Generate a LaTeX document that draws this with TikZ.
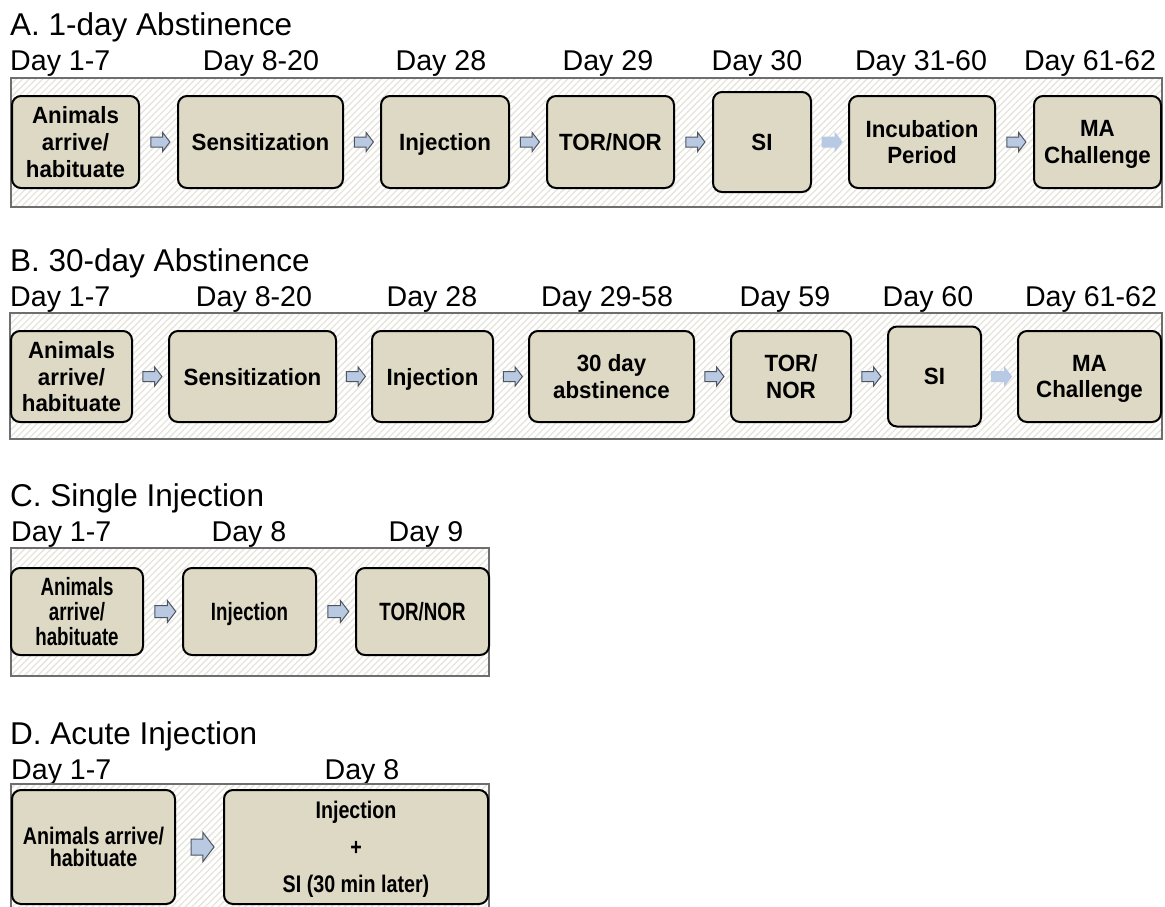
\documentclass[tikz,border=0pt]{standalone}
\usepackage{fontspec}
\setmainfont{Liberation Sans}
\newfontfamily\stepfontA[FakeStretch=0.95]{Liberation Sans}
\newfontfamily\stepfontC[FakeStretch=0.75]{Liberation Sans}
\newfontfamily\stepfontD[FakeStretch=0.82]{Liberation Sans}
\usetikzlibrary{shapes.arrows,patterns.meta,positioning}
\definecolor{boxfill}{RGB}{221,217,196}
\definecolor{hatch}{RGB}{230,228,219}
\definecolor{framegray}{RGB}{110,110,110}
\definecolor{arrowblue}{RGB}{185,201,226}
\definecolor{arrowfaint}{RGB}{184,201,228}
\definecolor{arrowedge}{RGB}{78,86,98}
\tikzstyle{panelframe} = [draw=framegray,line width=1.5pt,pattern={Lines[angle=45,distance=4.7pt,line width=1.3pt]},pattern color=hatch]
\tikzstyle{stagebox} = [draw=black,line width=2pt,fill=boxfill,rounded corners=9pt,align=center,inner sep=0pt,text depth=0pt]
\tikzstyle{stageA} = [stagebox,font=\stepfontA\fontsize{23.5}{26.7}\selectfont\bfseries]
\tikzstyle{stageC} = [stagebox,font=\stepfontC\fontsize{25}{25}\selectfont\bfseries]
\tikzstyle{stageD} = [stagebox,font=\stepfontD\fontsize{24}{22}\selectfont\bfseries]
\tikzstyle{flow} = [single arrow,draw=arrowedge,line width=1pt,fill=arrowblue,inner xsep=0pt,inner ysep=4.5pt,minimum height=19pt,single arrow head extend=4.5pt,single arrow tip angle=105]
\tikzstyle{flowfaint} = [flow,draw=none,fill=arrowfaint,minimum height=21pt,inner ysep=5pt,single arrow head extend=5pt]
\tikzstyle{daylabel} = [anchor=base,inner sep=0pt,font=\fontsize{28.6}{30}\selectfont]
\tikzstyle{paneltitle} = [anchor=base west,inner sep=0pt,font=\fontsize{31.5}{33}\selectfont]

\begin{document}
\begin{tikzpicture}[x=1pt,y=-1pt]
\fill[white] (0,0) rectangle (1165,906);
\useasboundingbox (0,0) rectangle (1165,906);

% A. 1-day abstinence
\node[paneltitle] (titleA) at (10,35) {A. 1-day Abstinence};
\node[daylabel,anchor=base west] (dayA1) at (10,70) {Day 1-7};
\node[daylabel] (dayA2) at (261,70) {Day 8-20};
\node[daylabel] (dayA3) at (441,70) {Day 28};
\node[daylabel] (dayA4) at (608,70) {Day 29};
\node[daylabel] (dayA5) at (757,70) {Day 30};
\node[daylabel] (dayA6) at (921,70) {Day 31-60};
\node[daylabel] (dayA7) at (1090,70) {Day 61-62};
\draw[panelframe] (11,78) rectangle (1162,207);
\node[stageA,minimum width=127pt,minimum height=92pt] (a1) at (75.5,142) {Animals\\arrive/\\habituate};
\node[stageA,minimum width=165pt,minimum height=92pt] (a2) at (260.5,142) {Sensitization};
\node[stageA,minimum width=128pt,minimum height=92pt] (a3) at (445,142) {Injection};
\node[stageA,minimum width=127pt,minimum height=92pt] (a4) at (610.5,142) {TOR/NOR};
\node[stageA,minimum width=98pt,minimum height=100pt] (a5) at (762,142) {SI};
\node[stageA,minimum width=146pt,minimum height=92pt] (a6) at (922,142) {Incubation\\Period};
\node[stageA,minimum width=127pt,minimum height=92pt] (a7) at (1097.5,142) {MA\\Challenge};
\path (a1.east) -- node[flow] {} (a2.west);
\path (a2.east) -- node[flow] {} (a3.west);
\path (a3.east) -- node[flow] {} (a4.west);
\path (a4.east) -- node[flow] {} (a5.west);
\path (a5.east) -- node[flowfaint] {} (a6.west);
\path (a6.east) -- node[flow] {} (a7.west);

% B. 30-day abstinence
\node[paneltitle] (titleB) at (10,271) {B. 30-day Abstinence};
\node[daylabel,anchor=base west] (dayB1) at (10,306) {Day 1-7};
\node[daylabel] (dayB2) at (254,306) {Day 8-20};
\node[daylabel] (dayB3) at (432,306) {Day 28};
\node[daylabel] (dayB4) at (607,306) {Day 29-58};
\node[daylabel] (dayB5) at (785,306) {Day 59};
\node[daylabel] (dayB6) at (928,306) {Day 60};
\node[daylabel] (dayB7) at (1091,306) {Day 61-62};
\draw[panelframe] (10,313) rectangle (1162,439);
\node[stageA,minimum width=121pt,minimum height=91pt] (b1) at (71.5,376.5) {Animals\\arrive/\\habituate};
\node[stageA,minimum width=167pt,minimum height=91pt] (b2) at (252.5,376.5) {Sensitization};
\node[stageA,minimum width=121pt,minimum height=91pt] (b3) at (432.5,376.5) {Injection};
\node[stageA,minimum width=165pt,minimum height=91pt] (b4) at (611.5,376.5) {30 day\\abstinence};
\node[stageA,minimum width=120pt,minimum height=91pt] (b5) at (791,376.5) {TOR/\\NOR};
\node[stageA,minimum width=93pt,minimum height=100pt] (b6) at (934.5,376.5) {SI};
\node[stageA,minimum width=143pt,minimum height=91pt] (b7) at (1089.5,376.5) {MA\\Challenge};
\path (b1.east) -- node[flow] {} (b2.west);
\path (b2.east) -- node[flow] {} (b3.west);
\path (b3.east) -- node[flow] {} (b4.west);
\path (b4.east) -- node[flow] {} (b5.west);
\path (b5.east) -- node[flow] {} (b6.west);
\path (b6.east) -- node[flowfaint] {} (b7.west);

% C. single injection
\node[paneltitle] (titleC) at (10,506) {C. Single Injection};
\node[daylabel,anchor=base west] (dayC1) at (11,541) {Day 1-7};
\node[daylabel] (dayC2) at (249,541) {Day 8};
\node[daylabel] (dayC3) at (426,541) {Day 9};
\draw[panelframe] (11,548) rectangle (489,676);
\node[stageC,minimum width=132pt,minimum height=87pt] (c1) at (77,611.5) {Animals\\arrive/\\habituate};
\node[stageC,minimum width=133pt,minimum height=87pt] (c2) at (249.5,611.5) {Injection};
\node[stageC,minimum width=133pt,minimum height=87pt] (c3) at (422.5,611.5) {TOR/NOR};
\path (c1.east) -- node[flow,minimum height=21pt,inner ysep=5.5pt,single arrow head extend=5pt] {} (c2.west);
\path (c2.east) -- node[flow,minimum height=21pt,inner ysep=5.5pt,single arrow head extend=5pt] {} (c3.west);

% D. acute injection
\node[paneltitle] (titleD) at (10,744) {D. Acute Injection};
\node[daylabel,anchor=base west] (dayD1) at (11,779) {Day 1-7};
\node[daylabel] (dayD2) at (362,779) {Day 8};
\draw[panelframe] (11,784) rectangle (489,912);
\node[stageD,minimum width=163pt,minimum height=114pt] (d1) at (93.5,847) {Animals arrive/\\habituate};
\node[stageD,minimum width=264pt,minimum height=114pt,font=\stepfontD\fontsize{24}{37}\selectfont\bfseries] (d2) at (356,847) {Injection\\+\\SI (30 min later)};
\path (d1.east) -- node[flow,minimum height=23pt,inner ysep=7.5pt,single arrow head extend=6.5pt] {} (d2.west);
\end{tikzpicture}
\end{document}
